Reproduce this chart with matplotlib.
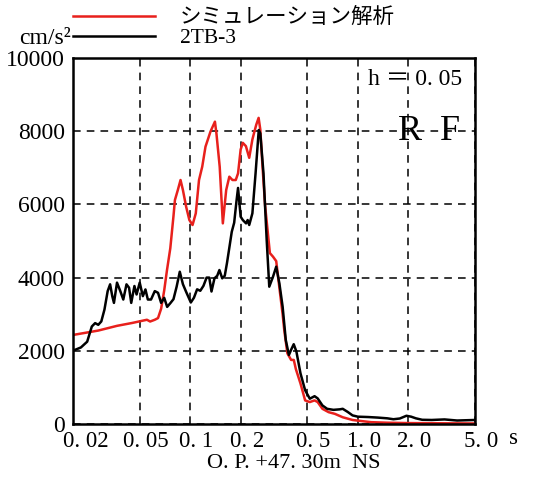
import matplotlib
matplotlib.use('Agg')
import matplotlib.pyplot as plt
from matplotlib.ticker import FixedLocator, FixedFormatter, NullLocator
from matplotlib.transforms import ScaledTranslation

plt.rcParams['font.family'] = ['Liberation Serif', 'Noto Sans CJK JP']

# response spectrum, h=0.05, RF
# observed record 2TB-3 (period s, cm/s2)
obs_t = [0.0200, 0.0223, 0.0243, 0.0259, 0.0271, 0.0283, 0.0295, 0.0308, 0.0322, 0.0333,
         0.0343, 0.0351, 0.0366, 0.0383, 0.0399, 0.0417, 0.0432, 0.0445, 0.0465, 0.0479,
         0.0500, 0.0522, 0.0541, 0.0559, 0.0584, 0.0615, 0.0643, 0.0671, 0.0700, 0.0729,
         0.0761, 0.0795, 0.0830, 0.0867, 0.0905, 0.0945, 0.1009, 0.1053, 0.1100, 0.1149,
         0.1200, 0.1253, 0.1300, 0.1340, 0.1396, 0.1450, 0.1494, 0.1553, 0.1608, 0.1658,
         0.1710, 0.1770, 0.1830, 0.1890, 0.1930, 0.2000, 0.2060, 0.2154, 0.2202, 0.2250,
         0.2350, 0.2455, 0.2565, 0.2620, 0.2737, 0.2860, 0.2963, 0.3120, 0.3260, 0.3405,
         0.3560, 0.3718, 0.3880, 0.4000, 0.4146, 0.4300, 0.4550, 0.4850, 0.5170, 0.5520,
         0.5760, 0.6150, 0.6560, 0.7150, 0.7790, 0.8130, 0.8700, 0.9300, 1.000, 1.155,
         1.317, 1.500, 1.630, 1.780, 1.950, 2.080, 2.220, 2.420, 2.760, 3.290,
         3.910, 5.000]
obs_v = [2003, 2092, 2249, 2664, 2756, 2710, 2802, 3124, 3631, 3816,
         3493, 3309, 3862, 3631, 3401, 3816, 3723, 3309, 3770, 3539,
         3862, 3493, 3677, 3401, 3401, 3631, 3585, 3309, 3447, 3200,
         3300, 3410, 3750, 4160, 3820, 3615, 3320, 3450, 3680, 3640,
         3775, 4000, 4000, 3620, 3980, 4050, 4207, 3980, 4050, 4400,
         4800, 5250, 5500, 6100, 6450, 5664, 5573, 5482, 5573, 5437,
         5756, 6849, 8032, 7941, 6849, 5027, 3752, 4025, 4298, 3843,
         3206, 2295, 1885, 2028, 2180, 1982, 1383, 922, 691, 760,
         700, 507, 415, 387, 400, 415, 330, 235, 200, 190,
         175, 155, 130, 150, 225, 200, 155, 115, 110, 125,
         95, 110]

# simulation
sim_t = [0.0200, 0.0283, 0.0366, 0.0450, 0.0496, 0.0552, 0.0577, 0.0615, 0.0643, 0.0671,
         0.0700, 0.0727, 0.0761, 0.0795, 0.0811, 0.0844, 0.0876, 0.0905, 0.0946, 0.0989,
         0.1033, 0.1080, 0.1129, 0.1180, 0.1234, 0.1272, 0.1321, 0.1362, 0.1405, 0.1434,
         0.1500, 0.1566, 0.1640, 0.1712, 0.1788, 0.1870, 0.1930, 0.2000, 0.2060, 0.2150,
         0.2250, 0.2350, 0.2420, 0.2480, 0.2560, 0.2620, 0.2700, 0.2800, 0.2988, 0.3120,
         0.3260, 0.3410, 0.3560, 0.3640, 0.3800, 0.4000, 0.4150, 0.4270, 0.4550, 0.4850,
         0.5170, 0.5520, 0.5760, 0.6150, 0.6700, 0.7300, 0.8130, 0.9300, 1.000, 1.200,
         1.500, 2.000, 3.000, 5.000]
sim_v = [2433, 2553, 2682, 2760, 2802, 2848, 2800, 2848, 2894, 3150,
         3650, 4200, 4800, 5679, 6120, 6393, 6666, 6393, 5937, 5573,
         5437, 5756, 6666, 7030, 7577, 7759, 7987, 8123, 8260, 7941,
         7030, 5482, 6393, 6757, 6666, 6666, 6848, 7500, 7682, 7591,
         7273, 7773, 8000, 8182, 8364, 8045, 7045, 5955, 4670, 4571,
         4450, 3700, 3000, 2569, 1931, 1751, 1750, 1500, 1106, 645,
         599, 645, 599, 415, 323, 277, 184, 110, 92, 50,
         35, 25, 20, 15]

xticks = [0.02, 0.05, 0.1, 0.2, 0.5, 1.0, 2.0, 5.0]
xlabels = ['0. 02', '0. 05', '0. 1', '0. 2', '0. 5', '1. 0', '2. 0', '5. 0']
yticks = [0, 2000, 4000, 6000, 8000, 10000]

W, H = 548, 479
fig = plt.figure(figsize=(W / 100, H / 100), dpi=100)
ax = fig.add_axes([73 / W, 1 - 424 / H, 402 / W, 366 / H])

l1, = ax.plot(sim_t, sim_v, color='#e8201c', lw=1.8, label='シミュレーション解析')
l2, = ax.plot(obs_t, obs_v, color='black', lw=1.8, label='2TB-3')

ax.set_xscale('log')
ax.set_xlim(0.02, 5.0)
ax.set_ylim(0, 10000)
ax.xaxis.set_major_locator(FixedLocator(xticks))
ax.xaxis.set_major_formatter(FixedFormatter(xlabels))
ax.xaxis.set_minor_locator(NullLocator())
ax.set_yticks(yticks)
ax.set_yticklabels([str(v) for v in yticks])
ax.grid(True, color='black', ls=(0, (5, 4)), lw=1.1)
ax.tick_params(axis='x', length=0, labelsize=16.5, pad=5)
ax.tick_params(axis='y', length=0, labelsize=17, pad=6)
for s in ax.spines.values():
    s.set_linewidth(1.8)

# nudge x tick labels right like the original
for i, lab in enumerate(ax.get_xticklabels()):
    dx = 13 if i == 0 else 6
    lab.set_transform(lab.get_transform() + ScaledTranslation(dx / 100, 0, fig.dpi_scale_trans))

fig.text(514 / W, 1 - 439 / H, 's', fontsize=16.5, ha='center', va='center')
fig.text(294 / W, 1 - 463 / H, 'O. P. +47. 30m  NS', fontsize=16, ha='center', va='center')
fig.text(71 / W, 1 - 44 / H, 'cm/s²', fontsize=17, ha='right', va='baseline')

ax.text(0.735, 0.94, 'h ＝ 0. 05', transform=ax.transAxes, fontsize=17, ha='left', va='center')
ax.text(0.885, 0.80, 'R  F', transform=ax.transAxes, fontsize=26, ha='center', va='center')

fig.legend(handles=[l1, l2], loc='upper left', bbox_to_anchor=(73 / W, 1 - 8 / H),
           frameon=False, borderpad=0, borderaxespad=0, handlelength=3.8,
           handletextpad=1.15, labelspacing=0.0, fontsize=15.5)

fig.savefig('out.png', dpi=100)
